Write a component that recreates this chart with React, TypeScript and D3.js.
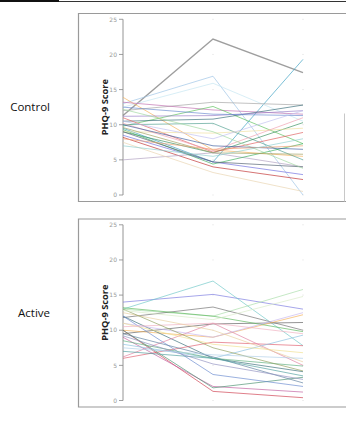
import * as d3 from "d3";

// time points (unlabelled on the x axis in the original)
const timepoints = [0, 1, 2];
const yTicks = [0, 5, 10, 15, 20, 25];

// Control group: PHQ-9 at each time point, one entry per participant
const controlT1 = [11.3, 9.5, 13.0, 12.5, 12.0, 13.9, 13.2, 9.8, 10.5, 11.2, 12.5, 10.0, 9.0, 11.0, 8.2, 8.5, 5.0, 9.3, 9.0, 7.5, 10.2, 9.6, 9.0, 12.2, 10.0, 8.0, 10.5, 7.0];
const controlT2 = [22.2, 4.7, 16.9, 15.9, 13.2, 6.4, 12.1, 12.6, 10.8, 11.3, 11.5, 10.2, 6.0, 6.1, 4.0, 4.7, 6.0, 4.4, 8.8, 3.2, 6.3, 6.0, 4.7, 9.0, 7.0, 6.5, 8.0, 5.5];
const controlT3 = [17.4, 19.3, 0.0, 10.5, 12.8, 5.5, 11.5, 7.3, 12.8, 12.0, 11.3, 5.0, 10.3, 8.9, 2.2, 2.9, 4.0, 7.3, 9.5, 0.5, 11.0, 5.8, 4.0, 3.8, 6.5, 7.0, 12.0, 8.0];
const controlColors = ["#7d7d7d", "#3a9fc2", "#9cc3e6", "#c5e5f2", "#a4a4a4", "#f5b25a", "#c070b0", "#5cc05c", "#3a6e7a", "#9a80c8", "#6a8ad0", "#50a090", "#3a9060", "#e06060", "#c03030", "#7070e0", "#b0a0c0", "#40b060", "#f0e0a0", "#e8d4b0", "#f0a0b0", "#a0a060", "#506070", "#a0d8a0", "#4060a0", "#f0a070", "#c0c0f0", "#90d0d0"];

// Active group
const activeT1 = [14.0, 13.0, 13.0, 11.8, 9.5, 10.0, 13.2, 12.0, 6.0, 10.0, 9.0, 10.0, 12.0, 6.2, 8.0, 11.0, 11.0, 9.5, 8.5, 7.0, 10.5, 12.5, 13.0, 9.2, 7.5, 12.8];
const activeT2 = [15.1, 17.0, 12.0, 13.3, 10.9, 9.0, 12.0, 6.0, 8.3, 1.3, 2.0, 1.8, 3.7, 11.0, 6.0, 9.0, 8.0, 6.2, 6.0, 6.0, 11.0, 10.0, 7.5, 5.2, 6.5, 11.5];
const activeT3 = [13.0, 7.8, 15.8, 10.0, 11.1, 12.2, 9.8, 4.1, 7.8, 0.4, 1.2, 3.3, 2.0, 5.0, 9.3, 12.5, 6.8, 2.5, 4.9, 3.5, 9.5, 5.5, 4.2, 3.0, 6.0, 14.8];
const activeColors = ["#7a7ae0", "#70c8c8", "#a8dca8", "#707070", "#606060", "#f5b25a", "#5cb85c", "#3a6e7a", "#e06070", "#d04050", "#c060a0", "#4a9070", "#6a8ad0", "#e080a0", "#8cc0e0", "#c8b8f0", "#f0e090", "#6080a0", "#60b080", "#50a0a0", "#f0b0c0", "#e8d0a0", "#90a060", "#9090c0", "#b0d0e8", "#d8ecc8"];

const groups = [
  { label: "Control", top: 13, t1: controlT1, t2: controlT2, t3: controlT3, colors: controlColors, rightFrom: 100 },
  { label: "Active", top: 218.5, t1: activeT1, t2: activeT2, t3: activeT3, colors: activeColors, rightFrom: 188 },
];

const Panel = ({ g }: { g: any }) => {
  const boxH = 188;
  const x = d3.scalePoint<number>().domain(timepoints).range([123, 303]);
  const y = d3.scaleLinear().domain([0, 25]).range([g.top + 182, g.top + 6.3]);
  const line = d3
    .line<number>()
    .x((_, i) => x(i) as number)
    .y((d) => y(d));
  const midY = (y(0) + y(25)) / 2;
  const bx = 78.5, by = g.top + 0.5;
  return (
    <g>
      {/* box, right side only partly visible in the original */}
      <path
        d={`M346,${by}H${bx}V${by + boxH}H346`}
        fill="none"
        stroke="#9a9a9a"
        strokeWidth={1.2}
      />
      <line x1={344.5} x2={344.5} y1={by + g.rightFrom} y2={by + boxH} stroke="#c8c8c8" strokeWidth={1} />
      <text x={50} y={midY + 4} textAnchor="end" fontFamily="'Open Sans', sans-serif" fontSize={11.5} fill="#111">
        {g.label}
      </text>
      <text
        transform={`translate(107.5,${midY}) rotate(-90)`}
        textAnchor="middle"
        fontFamily="'Open Sans', sans-serif"
        fontWeight="bold"
        fontSize={9.3}
        fill="#222"
      >
        PHQ-9 Score
      </text>
      {yTicks.map((t) => (
        <g key={t}>
          <line x1={119} x2={123} y1={y(t)} y2={y(t)} stroke="#888" strokeWidth={0.8} />
          <text x={117} y={y(t) + 2.2} textAnchor="end" fontFamily="'DejaVu Sans', sans-serif" fontSize={6} fill="#999">
            {t}
          </text>
          {timepoints.slice(1).map((p) => (
            <rect key={p} x={(x(p) as number) - 0.5} y={y(t) - 0.5} width={1} height={1} fill="#ddd" />
          ))}
        </g>
      ))}
      <line x1={123} x2={123} y1={y(25)} y2={y(0)} stroke="#888" strokeWidth={0.9} />
      {g.t1.map((v: number, i: number) => (
        <path
          key={i}
          d={line([v, g.t2[i], g.t3[i]]) as string}
          fill="none"
          stroke={g.colors[i]}
          strokeWidth={i === 0 && g.label === "Control" ? 1.4 : 0.9}
          strokeOpacity={0.75}
        />
      ))}
    </g>
  );
};

export default function App() {
  return (
    <svg width={346} height={421} style={{ position: "absolute", left: 0, top: 0, background: "#fff" }}>
      <line x1={0} x2={59} y1={1} y2={1} stroke="#111" strokeWidth={2} />
      <line x1={59} x2={346} y1={1.5} y2={1.5} stroke="#333" strokeWidth={1} />
      {groups.map((g) => (
        <Panel key={g.label} g={g} />
      ))}
    </svg>
  );
}
